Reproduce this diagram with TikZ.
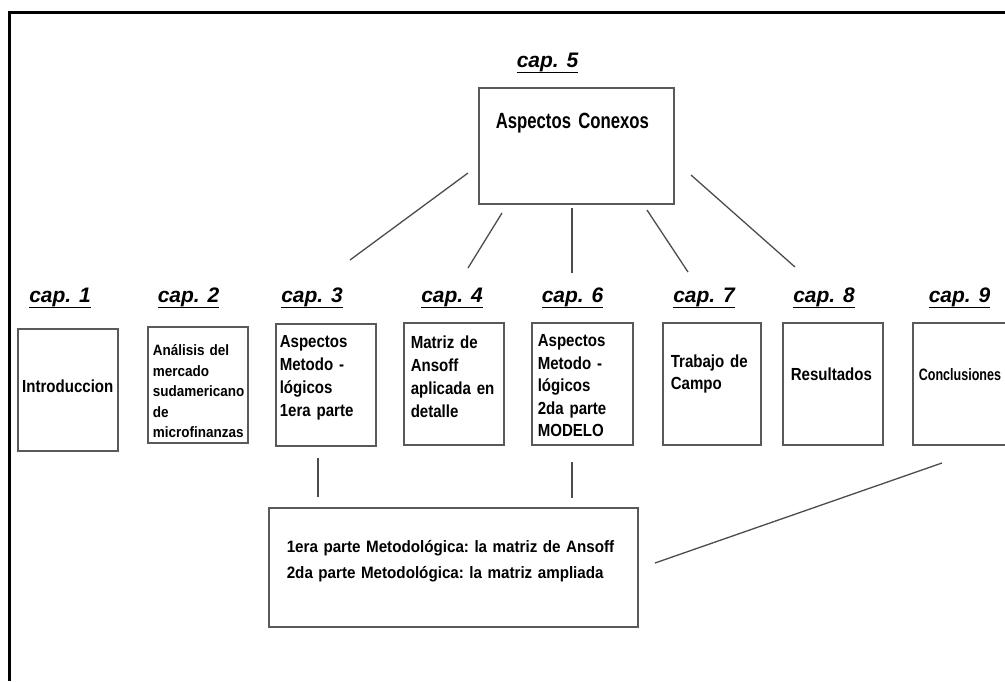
\documentclass[tikz,border=0pt]{standalone}
\usepackage{fontspec}
\setmainfont{Liberation Sans}
\newfontfamily\bodyfont{Liberation Sans}[FakeStretch=0.86]
\newfontfamily\smallfont{Liberation Sans}[FakeStretch=0.9]
\newfontfamily\condfont{Liberation Sans}[FakeStretch=0.76]
\newfontfamily\widefont{Liberation Sans}[FakeStretch=0.92]
\newsavebox\capbox
\newcommand{\capul}[1]{\sbox\capbox{#1}\rlap{\rule[-6.3pt]{\wd\capbox}{1.8pt}}\usebox\capbox}
\hyphenpenalty=10000

\tikzset{
  capname/.style={inner sep=0pt, anchor=base, font=\nonfrenchspacing\fontsize{21}{25}\selectfont\bfseries\itshape},
  chapbox/.style={draw=black!65, line width=1.6pt, anchor=north west, inner ysep=0pt, align=left},
  link/.style={draw=black!70, line width=1.3pt},
}

\begin{document}
\frenchspacing
\begin{tikzpicture}[x=1pt, y=-1pt]
\useasboundingbox (0,0) rectangle (1005,681);
\clip (0,0) rectangle (1005,681);
% Frame
\draw[line width=3pt] (1005,12.5) -- (9.5,12.5) -- (9.5,681);
% Chapter titles
\node[capname] (cap5) at (547.5,67) {\capul{cap. 5}};
\node[capname] (cap1) at (60,302) {\capul{cap. 1}};
\node[capname] (cap2) at (188.5,302) {\capul{cap. 2}};
\node[capname] (cap3) at (312,302) {\capul{cap. 3}};
\node[capname] (cap4) at (452,302) {\capul{cap. 4}};
\node[capname] (cap6) at (572.5,302) {\capul{cap. 6}};
\node[capname] (cap7) at (704,302) {\capul{cap. 7}};
\node[capname] (cap8) at (824,302) {\capul{cap. 8}};
\node[capname] (cap9) at (959.5,302) {\capul{cap. 9}};
% Central box
\node[chapbox, inner xsep=17pt, text width=161pt, text height=41pt, text depth=75pt,
  font=\condfont\bfseries\fontsize{22}{26}\selectfont] (conexos) at (478,87) {Aspectos Conexos};
% Chapter boxes
\node[chapbox, inner xsep=0pt, text width=100pt, align=center, text height=64pt, text depth=58pt,
  font=\bodyfont\bfseries\fontsize{17.5}{23}\selectfont] (intro) at (17,328) {Introduccion};
\node[chapbox, inner xsep=5pt, text width=90pt, text height=29pt, text depth=87pt,
  font=\smallfont\bfseries\fontsize{15}{20.5}\selectfont] (mercado) at (147,326)
  {Análisis del\\mercado\\sudamericano\\de\\microfinanzas};
\node[chapbox, inner xsep=4pt, text width=92pt, text height=24pt, text depth=98pt,
  font=\bodyfont\bfseries\fontsize{17.5}{23}\selectfont] (metodo1) at (275,323)
  {Aspectos\\Metodo -\\lógicos\\1era parte};
\node[chapbox, inner xsep=7pt, text width=86pt, text height=26pt, text depth=96pt,
  font=\bodyfont\bfseries\fontsize{17.5}{23}\selectfont] (ansoff) at (403,322)
  {Matriz de\\Ansoff\\aplicada en\\detalle};
\node[chapbox, inner xsep=6pt, text width=89pt, text height=24pt, text depth=98pt,
  font=\bodyfont\bfseries\fontsize{17.5}{22.5}\selectfont] (metodo2) at (531,322)
  {Aspectos\\Metodo -\\lógicos\\2da parte\\MODELO};
\node[chapbox, inner xsep=8pt, text width=82pt, text height=45pt, text depth=77pt,
  font=\bodyfont\bfseries\fontsize{17.5}{22}\selectfont] (campo) at (662,322)
  {Trabajo de\\Campo};
\node[chapbox, inner xsep=8pt, text width=84pt, text height=58pt, text depth=64pt,
  font=\bodyfont\bfseries\fontsize{17.5}{23}\selectfont] (result) at (782,322) {Resultados};
\node[chapbox, inner xsep=6pt, text width=88pt, text height=58pt, text depth=64pt,
  font=\condfont\bfseries\fontsize{16.5}{22}\selectfont] (concl) at (912,322) {Conclusiones};
% Bottom box
\node[chapbox, inner xsep=18pt, text width=333pt, text height=45pt, text depth=74pt,
  font=\widefont\bfseries\fontsize{16.5}{26}\selectfont] (matriz) at (268,507)
  {\mbox{1era parte Metodológica: la matriz de Ansoff}\\\mbox{2da parte Metodológica: la matriz ampliada}};
% Connector ends
\coordinate (k3a) at (468,173); \coordinate (k3b) at (350,260);
\coordinate (k4a) at (502,213); \coordinate (k4b) at (468,268);
\coordinate (k6a) at (572,208); \coordinate (k6b) at (572,273);
\coordinate (k7a) at (647,210); \coordinate (k7b) at (688,272);
\coordinate (k8a) at (691,175); \coordinate (k8b) at (795,267);
\coordinate (m3a) at (318,458); \coordinate (m3b) at (318,497);
\coordinate (m6a) at (572,462); \coordinate (m6b) at (572,498);
\coordinate (m9a) at (942,463); \coordinate (m9b) at (655,563);
% Connectors
\draw[link] (k3a) -- (k3b);
\draw[link] (k4a) -- (k4b);
\draw[link] (k6a) -- (k6b);
\draw[link] (k7a) -- (k7b);
\draw[link] (k8a) -- (k8b);
\draw[link] (m3a) -- (m3b);
\draw[link] (m6a) -- (m6b);
\draw[link] (m9a) -- (m9b);
\end{tikzpicture}
\end{document}
